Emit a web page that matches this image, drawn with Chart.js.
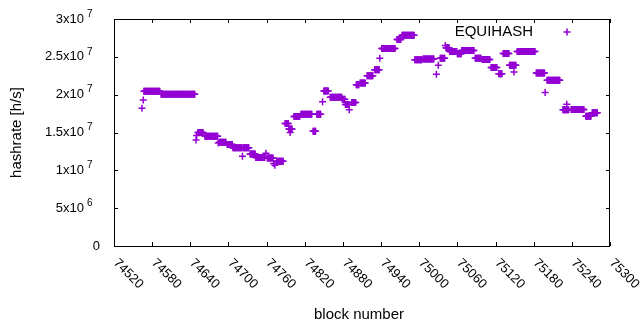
<!DOCTYPE html>
<html>
<head>
<meta charset="utf-8">
<script src="https://cdn.jsdelivr.net/npm/chart.js@4.4.1/dist/chart.umd.min.js"></script>
<style>
  html, body { margin: 0; background: #fff; }
  #wrap { width: 640px; height: 330px; }
</style>
</head>
<body>
<div id="wrap"><canvas id="c" width="640" height="330"></canvas></div>
<script>
// runs of equal hashrate estimates: first block, last block, value [h/s]
const runStart = [74564, 74566, 74567, 74594, 74649, 74650, 74652, 74663, 74684, 74686,
  74698, 74707, 74722, 74723, 74734, 74743, 74759, 74761, 74771, 74773,
  74776, 74789, 74795, 74797, 74803, 74814, 74833, 74839, 74848, 74850,
  74860, 74879, 74884, 74890, 74894, 74901, 74907, 74918, 74930, 74938,
  74941, 74965, 74973, 74993, 75006, 75027, 75030, 75033, 75041, 75042,
  75048, 75060, 75067, 75088, 75099, 75113, 75125, 75132, 75142, 75149,
  75150, 75154, 75184, 75198, 75201, 75226, 75232, 75239, 75262, 75272];
const runEnd = [74564, 74566, 74592, 74647, 74649, 74650, 74660, 74683, 74684, 74696,
  74706, 74721, 74722, 74732, 74742, 74757, 74759, 74770, 74771, 74773,
  74786, 74794, 74800, 74797, 74812, 74831, 74837, 74845, 74848, 74857,
  74878, 74883, 74889, 74890, 74900, 74905, 74915, 74927, 74937, 74938,
  74962, 74971, 74992, 75004, 75023, 75027, 75030, 75040, 75041, 75047,
  75059, 75066, 75086, 75097, 75111, 75122, 75130, 75141, 75148, 75149,
  75152, 75182, 75197, 75198, 75221, 75235, 75232, 75259, 75270, 75280];
const runHashrate = [1.82e7, 1.93e7, 2.045e7, 2.005e7, 1.40e7, 1.46e7, 1.50e7, 1.45e7, 1.36e7, 1.37e7,
  1.34e7, 1.30e7, 1.185e7, 1.30e7, 1.215e7, 1.168e7, 1.225e7, 1.163e7, 1.09e7, 1.066e7,
  1.12e7, 1.62e7, 1.545e7, 1.50e7, 1.71e7, 1.74e7, 1.515e7, 1.74e7, 1.907e7, 2.05e7,
  1.965e7, 1.94e7, 1.87e7, 1.80e7, 1.895e7, 2.13e7, 2.155e7, 2.25e7, 2.33e7, 2.48e7,
  2.61e7, 2.73e7, 2.785e7, 2.46e7, 2.47e7, 2.27e7, 2.39e7, 2.48e7, 2.65e7, 2.62e7,
  2.57e7, 2.54e7, 2.585e7, 2.48e7, 2.466e7, 2.36e7, 2.275e7, 2.545e7, 2.39e7, 2.30e7,
  2.39e7, 2.57e7, 2.285e7, 2.03e7, 2.19e7, 1.80e7, 1.875e7, 1.805e7, 1.715e7, 1.76e7];

const xTicks = [74520, 74580, 74640, 74700, 74760, 74820, 74880, 74940, 75000, 75060, 75120, 75180, 75240, 75300];
const yTicks = [0, 5e6, 1e7, 1.5e7, 2e7, 2.5e7, 3e7];
const yTickMantissa = ['0', '5x10', '1x10', '1.5x10', '2x10', '2.5x10', '3x10'];
const yTickExponent = ['', '6', '7', '7', '7', '7', '7'];

const seriesName = 'EQUIHASH';
const purple = '#9400d3';

const points = [];
for (let i = 0; i < runStart.length; i++) {
  for (let b = runStart[i]; b <= runEnd[i]; b++) {
    points.push({ x: b, y: runHashrate[i] });
  }
}

const font = 'Liberation Sans, Arial, sans-serif';

const frame = {
  id: 'frame',
  afterDraw(chart) {
    const ctx = chart.ctx;
    const a = chart.chartArea;
    const xs = chart.scales.x, ys = chart.scales.y;
    ctx.save();
    ctx.strokeStyle = '#000';
    ctx.fillStyle = '#000';
    ctx.lineWidth = 1;

    // box
    ctx.strokeRect(a.left + 0.5, a.top + 0.5, a.right - a.left - 1, a.bottom - a.top);

    // ticks, mirrored on the opposite sides
    ctx.beginPath();
    xTicks.forEach(v => {
      const px = Math.round(xs.getPixelForValue(v)) + 0.5;
      ctx.moveTo(px, a.bottom); ctx.lineTo(px, a.bottom - 4);
      ctx.moveTo(px, a.top); ctx.lineTo(px, a.top + 4);
    });
    yTicks.forEach(v => {
      const py = Math.round(ys.getPixelForValue(v)) + 0.5;
      ctx.moveTo(a.left, py); ctx.lineTo(a.left + 4, py);
      ctx.moveTo(a.right, py); ctx.lineTo(a.right - 4, py);
    });
    ctx.stroke();

    // y tick labels with raised exponent
    ctx.textBaseline = 'middle';
    yTicks.forEach((v, i) => {
      const py = ys.getPixelForValue(v);
      if (yTickExponent[i] === '') {
        ctx.font = '13px ' + font;
        ctx.textAlign = 'right';
        ctx.fillText(yTickMantissa[i], 100, py);
      } else {
        ctx.font = '13px ' + font;
        ctx.textAlign = 'right';
        ctx.fillText(yTickMantissa[i], 84, py);
        ctx.font = '10px ' + font;
        ctx.textAlign = 'left';
        ctx.fillText(yTickExponent[i], 87, py - 5);
      }
    });

    // x tick labels, rotated down to the right
    ctx.font = '13px ' + font;
    ctx.textAlign = 'left';
    xTicks.forEach(v => {
      const px = xs.getPixelForValue(v);
      ctx.save();
      ctx.translate(px + 1.5, a.bottom + 15);
      ctx.rotate(Math.PI / 4);
      ctx.fillText(String(v), 0, 0);
      ctx.restore();
    });

    // axis titles
    ctx.font = '15px ' + font;
    ctx.textAlign = 'center';
    ctx.fillText('block number', (a.left + a.right) / 2 - 3, 315);
    ctx.save();
    ctx.translate(17, (a.top + a.bottom) / 2);
    ctx.rotate(-Math.PI / 2);
    ctx.fillText('hashrate [h/s]', 0, 0);
    ctx.restore();

    // key
    ctx.textAlign = 'right';
    ctx.fillText(seriesName, 533, 32);
    ctx.strokeStyle = purple;
    ctx.lineWidth = 1.5;
    ctx.beginPath();
    ctx.moveTo(563.5, 32); ctx.lineTo(570.5, 32);
    ctx.moveTo(567, 28.5); ctx.lineTo(567, 35.5);
    ctx.stroke();
    ctx.restore();
  }
};

new Chart(document.getElementById('c'), {
  type: 'scatter',
  data: {
    datasets: [{
      label: seriesName,
      data: points,
      pointStyle: 'cross',
      pointRadius: 3.5,
      pointHoverRadius: 3.5,
      pointBorderWidth: 1.5,
      borderColor: purple,
      backgroundColor: purple,
      showLine: false
    }]
  },
  options: {
    responsive: false,
    animation: false,
    devicePixelRatio: 1,
    layout: { padding: { left: 114, right: 30, top: 19, bottom: 84 } },
    scales: {
      x: { type: 'linear', min: 74520, max: 75300, display: false },
      y: { min: 0, max: 3e7, display: false }
    },
    plugins: {
      legend: { display: false },
      tooltip: { enabled: false }
    }
  },
  plugins: [frame]
});
</script>
</body>
</html>
